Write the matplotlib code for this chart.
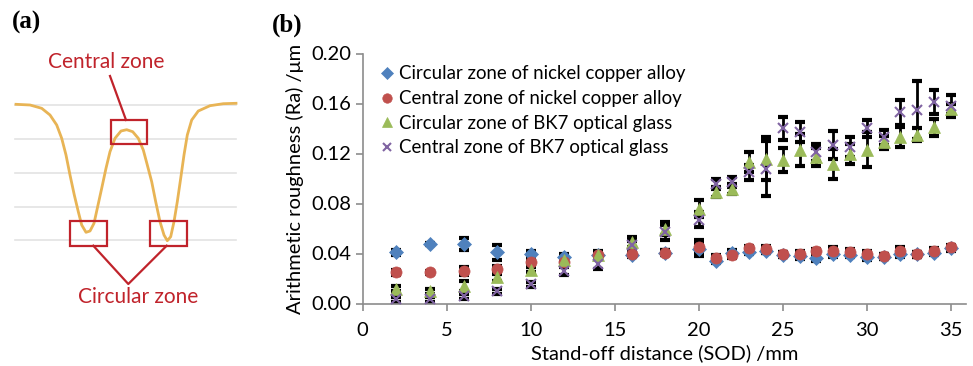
import matplotlib
matplotlib.use("Agg")
import matplotlib.pyplot as plt
from matplotlib.patches import Rectangle

plt.rcParams['font.family'] = ['Lato', 'DejaVu Sans']

# (b) measured data
sod = [2, 4, 6, 8, 10, 12, 14, 16, 18, 20, 21, 22, 23, 24, 25, 26, 27, 28, 29, 30, 31, 32, 33, 34, 35]
ra_circ_ni = [0.041, 0.0476, 0.0476, 0.041, 0.040, 0.0375, 0.0388, 0.039, 0.0407, 0.0434, 0.0343, 0.0407, 0.0415,
              0.0421, 0.039, 0.038, 0.0361, 0.0396, 0.039, 0.037, 0.0375, 0.0396, 0.0396, 0.0407, 0.0441]
ra_cent_ni = [0.025, 0.025, 0.026, 0.028, 0.033, 0.033, 0.039, 0.040, 0.0407, 0.0455, 0.0367, 0.0388, 0.0441,
              0.0434, 0.0396, 0.040, 0.042, 0.0423, 0.0415, 0.040, 0.038, 0.042, 0.0393, 0.0423, 0.045]
ra_circ_bk7 = [0.012, 0.010, 0.014, 0.021, 0.027, 0.035, 0.039, 0.049, 0.060, 0.076, 0.0895, 0.092, 0.113,
               0.116, 0.115, 0.123, 0.117, 0.112, 0.120, 0.123, 0.129, 0.133, 0.135, 0.141, 0.1556]
ra_cent_bk7 = [0.0033, 0.0033, 0.006, 0.010, 0.0153, 0.026, 0.032, 0.047, 0.057, 0.067, 0.096, 0.0975, 0.105,
               0.108, 0.140, 0.137, 0.121, 0.127, 0.125, 0.140, 0.133, 0.153, 0.155, 0.161, 0.158]

err_circ_ni = [0.002, 0.001, 0.005, 0.006, 0.002, 0.002, 0.002, 0.002, 0.002, 0.005, 0.002, 0.002, 0.002,
               0.002, 0.002, 0.002, 0.002, 0.002, 0.002, 0.002, 0.002, 0.002, 0.002, 0.002, 0.002]
err_cent_ni = [0.002, 0.001, 0.003, 0.002, 0.002, 0.002, 0.002, 0.002, 0.002, 0.005, 0.002, 0.002, 0.002,
               0.003, 0.002, 0.002, 0.002, 0.003, 0.002, 0.002, 0.002, 0.003, 0.002, 0.002, 0.002]
err_circ_bk7 = [0.002, 0.002, 0.004, 0.003, 0.002, 0.003, 0.003, 0.004, 0.005, 0.007, 0.004, 0.004, 0.008,
                0.017, 0.0095, 0.013, 0.007, 0.012, 0.008, 0.014, 0.005, 0.008, 0.005, 0.007, 0.004]
err_cent_bk7 = [0.002, 0.002, 0.002, 0.002, 0.002, 0.003, 0.004, 0.003, 0.006, 0.006, 0.004, 0.004, 0.006,
                0.022, 0.009, 0.008, 0.007, 0.011, 0.008, 0.007, 0.006, 0.010, 0.023, 0.0095, 0.009]

labels = ["Circular zone of nickel copper alloy", "Central zone of nickel copper alloy",
          "Circular zone of BK7 optical glass", "Central zone of BK7 optical glass"]

# (a) schematic profile (pixel units)
prof_x = [16, 30, 41.7, 50, 56.7, 61.7, 66, 70, 74.3, 78.3, 81.7, 86, 90, 94, 97.3, 101.7, 106, 110, 115, 121,
          126.7, 132.7, 138.3, 143.3, 147.3, 151.7, 155.7, 160, 164, 167.3, 170.7, 174, 177.3, 180.7, 184,
          187.3, 191.7, 198.3, 210, 223.3, 236]
prof_y = [104.3, 105, 108.3, 115, 125, 138.3, 155, 175, 195, 211.7, 225, 232.3, 231, 223.3, 208.3, 188.3,
          168.3, 151.7, 138.3, 131, 129.7, 131.7, 138.3, 150, 165, 181.7, 201.7, 221.7, 235, 240.7, 236.7,
          221.7, 201.7, 178.3, 155, 135, 120, 111, 105.7, 103.7, 103.3]
grid_y = [105, 139, 173, 207, 240]

W, H = 973, 366
fig = plt.figure(figsize=(W / 100, H / 100), dpi=100)

# ---- panel (a) in pixel coordinates
axa = fig.add_axes([0, 0, 1, 1])
axa.set_xlim(0, W)
axa.set_ylim(H, 0)
axa.axis("off")
for gy in grid_y:
    axa.plot([15, 236], [gy, gy], color="#e3e3e3", lw=1.2, zorder=1)
axa.plot(prof_x, prof_y, color="#e8b455", lw=2.0, zorder=2, solid_joinstyle="round")
red = "#c0232b"
for (rx, ry, rw, rh) in [(110.7, 120, 36.6, 24.3), (70, 220.7, 37.3, 25), (150, 220.7, 37.3, 25)]:
    axa.add_patch(Rectangle((rx, ry), rw, rh, fill=False, edgecolor=red, lw=1.6, zorder=3))
axa.plot([110, 126], [76, 120], color=red, lw=1.6)
axa.plot([93.3, 128.3, 166.7], [245.7, 284, 245.7], color=red, lw=1.6)
axa.text(106, 62, "Central zone", color=red, fontsize=15, ha="center", va="center")
axa.text(138.3, 297, "Circular zone", color=red, fontsize=15, ha="center", va="center")
axa.text(12, 22, "(a)", fontsize=18, fontweight="bold", family="Liberation Serif", va="center")
axa.text(272, 25, "(b)", fontsize=18, fontweight="bold", family="Liberation Serif", va="center")

# ---- panel (b)
ax = fig.add_axes([362.7 / W, 1 - 303.5 / H, (966 - 362.7) / W, 250 / H])
ax.set_xlim(0, 35.9)
ax.set_ylim(0, 0.20)

series = [
    (ra_circ_ni, err_circ_ni, "D", "#4f81bd", 7),
    (ra_cent_ni, err_cent_ni, "o", "#c0504d", 8),
    (ra_circ_bk7, err_circ_bk7, "^", "#9bbb59", 8),
    (ra_cent_bk7, err_cent_bk7, "x", "#8064a2", 7),
]
for vals, errs, mk, col, ms in series:
    ax.errorbar(sod, vals, yerr=errs, fmt="none", ecolor="black", elinewidth=2.0,
                capsize=3.5, capthick=3, zorder=2)
handles = []
for (vals, errs, mk, col, ms), lab in zip(series, labels):
    h, = ax.plot(sod, vals, linestyle="none", marker=mk, color=col, markersize=ms,
                 markeredgewidth=1.5 if mk == "x" else 0.5, label=lab, zorder=3)
    handles.append(h)

ax.legend(handles=handles, loc="upper left", bbox_to_anchor=(0.018, 0.967), frameon=False,
          fontsize=13.4, handletextpad=0.15, labelspacing=0.41, handlelength=1.0,
          borderaxespad=0.0, borderpad=0.2, markerscale=0.85)

ax.set_xticks(range(0, 36, 5))
ax.set_yticks([0, 0.04, 0.08, 0.12, 0.16, 0.20])
ax.set_yticklabels(["%.2f" % v for v in [0, 0.04, 0.08, 0.12, 0.16, 0.20]])
for s in ["top", "right"]:
    ax.spines[s].set_visible(False)
for s in ["left", "bottom"]:
    ax.spines[s].set_color("#8c8c8c")
    ax.spines[s].set_linewidth(1.2)
ax.tick_params(axis="both", colors="#8c8c8c", labelcolor="black", labelsize=14.5, length=5, width=1.2)
ax.tick_params(axis="x", pad=8)
ax.set_xlabel("Stand-off distance (SOD) /mm", fontsize=14.5, labelpad=4)
ax.set_ylabel("Arithmetic roughness (Ra) /μm", fontsize=14.5, labelpad=5)

fig.savefig("out.png", dpi=100)
